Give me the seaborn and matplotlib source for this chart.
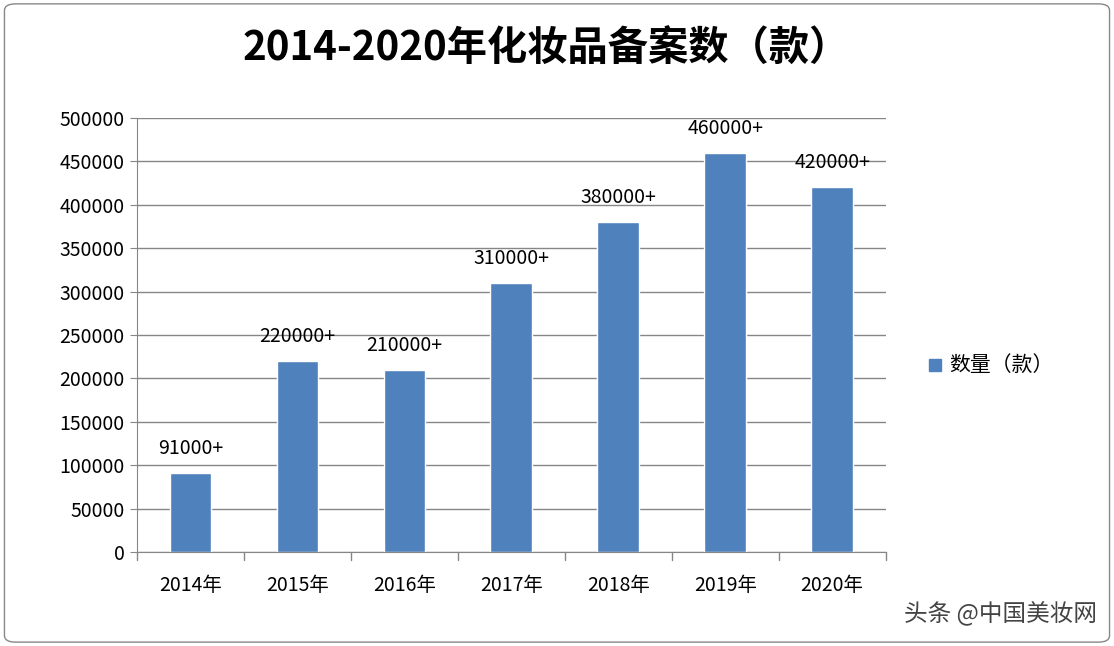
import matplotlib
matplotlib.use("Agg")
import matplotlib.pyplot as plt
import seaborn as sns
import pandas as pd
from matplotlib.patches import FancyBboxPatch

years = ["2014年", "2015年", "2016年", "2017年", "2018年", "2019年", "2020年"]
values = [91000, 220000, 210000, 310000, 380000, 460000, 420000]
labels = ["91000+", "220000+", "210000+", "310000+", "380000+", "460000+", "420000+"]
yticks = list(range(0, 500001, 50000))

sns.set_style("white")
plt.rcParams['font.family'] = ['Noto Sans CJK SC', 'DejaVu Sans']

fig = plt.figure(figsize=(11.14, 6.46), dpi=100)
fig.patches.append(FancyBboxPatch((0.004, 0.006), 0.992, 0.988, boxstyle="round,pad=0,rounding_size=0.01",
                                  transform=fig.transFigure, fill=False, ec="#888888", lw=1))
ax = fig.add_axes([0.123, 0.1455, 0.672, 0.672])
df = pd.DataFrame({"year": years, "v": values})
sns.barplot(data=df, x="year", y="v", color="#4F81BD", width=0.39, saturation=1, ax=ax)
ax.set_ylim(0, 500000)
ax.set_xlim(-0.5, 6.5)
ax.set_yticks(yticks)
ax.set_yticklabels([str(t) for t in yticks], fontsize=14, color="black")
ax.grid(axis="y", color="#868686", lw=1)
ax.set_axisbelow(True)
for s in ["top", "right"]:
    ax.spines[s].set_visible(False)
ax.spines["left"].set_color("#868686")
ax.spines["bottom"].set_color("#868686")
ax.tick_params(axis="y", left=True, length=5, color="#868686", pad=4)
ax.set_xticks(range(7))
ax.set_xticklabels(years, fontsize=14, color="black")
ax.tick_params(axis="x", bottom=False, pad=13)
for b in [i - 0.5 for i in range(8)]:
    ax.plot([b, b], [0, -9000], color="#868686", lw=1, clip_on=False)
ax.set_xlabel("")
ax.set_ylabel("")
for i, (v, l) in enumerate(zip(values, labels)):
    ax.text(i, v + 16000, l, ha="center", va="bottom", fontsize=14, color="black")
fig.text(0.49, 0.925, "2014-2020年化妆品备案数（款）", ha="center", va="center", fontsize=29,
         fontweight="bold", color="black")
fig.patches.append(plt.Rectangle((0.834, 0.426), 0.011, 0.019, transform=fig.transFigure, color="#4F81BD"))
fig.text(0.852, 0.435, "数量（款）", ha="left", va="center", fontsize=15, color="black")
fig.text(0.985, 0.05, "头条 @中国美妆网", ha="right", va="center", fontsize=17, color="#444444")
fig.savefig("out.png", dpi=100)
